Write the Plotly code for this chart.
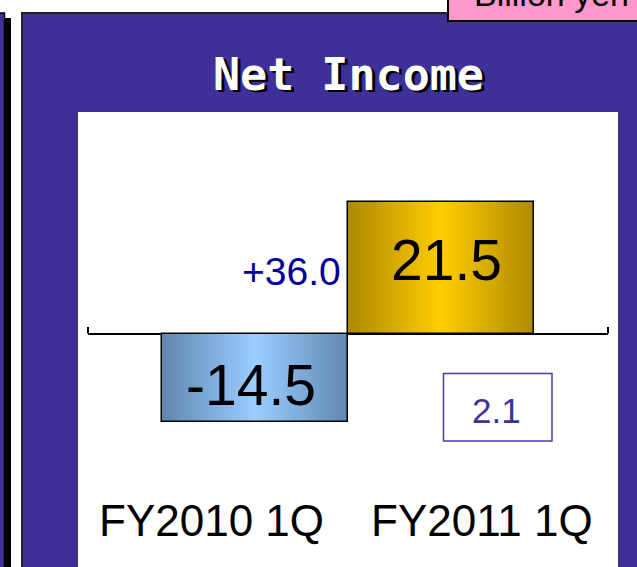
import plotly.graph_objects as go

# ---- data ----
categories = ["FY2010 1Q", "FY2011 1Q"]
net_income = [-14.5, 21.5]
value_labels = ["-14.5", "21.5"]
change_label = "+36.0"
inset_label = "2.1"
title_text = "Net Income"
unit_text = "Billion yen"

W, H = 637, 567
ML, MR, MT, MB = 88, 29, 150, 111
PW, PH = W - ML - MR, H - MT - MB


def px(x):
    return (x - ML) / PW


def py(y):
    return (H - MB - y) / PH


PURPLE = "#3e3096"
SANS = "Liberation Sans, Arial, sans-serif"


def mix(c1, c2, t):
    return "rgb(%d,%d,%d)" % tuple(round(a + (b - a) * t) for a, b in zip(c1, c2))


blue_edge, blue_mid = (98, 136, 178), (153, 204, 255)
gold_edge, gold_mid = (174, 138, 0), (255, 204, 0)

fig = go.Figure()
n = 24
for i in range(n):
    t = i / (n - 1)
    fig.add_trace(go.Bar(
        x=categories, y=net_income, width=1 - i / n,
        marker=dict(color=[mix(blue_edge, blue_mid, t), mix(gold_edge, gold_mid, t)],
                    line=dict(width=0)),
        hoverinfo="skip", showlegend=False))
fig.add_trace(go.Bar(
    x=categories, y=net_income, width=1,
    marker=dict(color="rgba(0,0,0,0)", line=dict(color="black", width=1.5)),
    hoverinfo="skip", showlegend=False))

shapes = [
    dict(type="rect", xref="paper", yref="paper", x0=px(-5), x1=px(4.5), y0=py(600), y1=py(13),
         fillcolor=PURPLE, line=dict(color="black", width=1.5), layer="below"),
    dict(type="rect", xref="paper", yref="paper", x0=px(5), x1=px(11), y0=py(600), y1=py(18),
         fillcolor="black", line=dict(width=0), layer="below"),
    dict(type="rect", xref="paper", yref="paper", x0=px(22), x1=px(660), y0=py(600), y1=py(13),
         fillcolor=PURPLE, line=dict(color="#222222", width=2), layer="below"),
    dict(type="rect", xref="paper", yref="paper", x0=px(78), x1=px(618), y0=py(600), y1=py(112),
         fillcolor="white", line=dict(width=0), layer="below"),
    dict(type="rect", xref="paper", yref="paper", x0=px(448), x1=px(660), y0=py(21), y1=py(-20),
         fillcolor="#ff99cc", line=dict(color="black", width=2), layer="below"),
    dict(type="line", xref="paper", yref="paper", x0=0, x1=0, y0=py(333.5), y1=py(327),
         line=dict(color="black", width=2)),
    dict(type="line", xref="paper", yref="paper", x0=1, x1=1, y0=py(333.5), y1=py(327),
         line=dict(color="black", width=2)),
    dict(type="rect", xref="paper", yref="paper", x0=px(443.5), x1=px(552), y0=py(441), y1=py(373.5),
         fillcolor="white", line=dict(color="#4a3aa8", width=1.5)),
]


def ann(text, x, y, size, color, family=SANS, xref="paper", xshift=0, xanchor="center"):
    return dict(text=text, x=x, y=y, xref=xref, yref="paper", xshift=xshift,
                xanchor=xanchor, yanchor="middle", showarrow=False,
                font=dict(family=family, size=size, color=color))


MONO = "DejaVu Sans Mono, monospace"
annotations = [
    ann(unit_text, px(472), py(-6), 34, "black", xanchor="left"),
    ann("<b>%s</b>" % title_text, px(351.5), py(77), 45, "black", family=MONO),
    ann("<b>%s</b>" % title_text, px(348.5), py(74), 45, "white", family=MONO),
    ann(change_label, px(291.5), py(271), 39, "#000099"),
    ann(inset_label, px(496), py(410), 35, "#3e3096"),
]
label_shift = [-43.5, 40.5]
text_y = [385, 260]
text_shift = [-4, 5]
for i, c in enumerate(categories):
    annotations.append(ann(c, c, py(520), 44, "black", xref="x", xshift=label_shift[i]))
    annotations.append(ann(value_labels[i], c, py(text_y[i]), 57, "black", xref="x",
                           xshift=text_shift[i]))

fig.update_layout(
    width=W, height=H, margin=dict(l=ML, r=MR, t=MT, b=MB),
    paper_bgcolor="white", plot_bgcolor="rgba(0,0,0,0)",
    barmode="overlay", bargap=0,
    shapes=shapes, annotations=annotations, showlegend=False,
    xaxis=dict(type="category", range=[-0.9005, 1.8952], showticklabels=False, showgrid=False,
               zeroline=False, showline=False, ticks=""),
    yaxis=dict(range=[-20, 30], showticklabels=False, showgrid=False, zeroline=True,
               zerolinecolor="black", zerolinewidth=2, showline=False, ticks=""),
)

fig.write_html("out.html", config={"displayModeBar": False},
               post_script="document.body.style.margin='0';")
